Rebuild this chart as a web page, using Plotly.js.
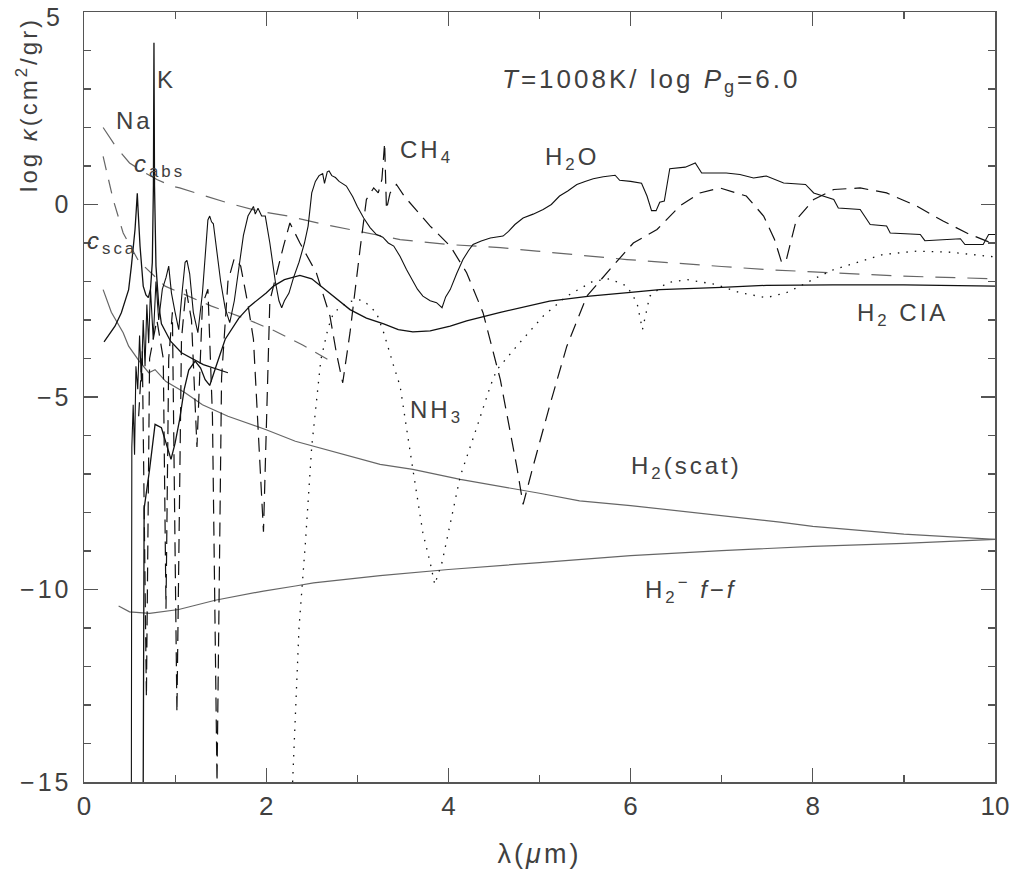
<!DOCTYPE html>
<html>
<head>
<meta charset="utf-8">
<script src="https://cdn.plot.ly/plotly-3.0.1.min.js"></script>
<style>
html,body{margin:0;padding:0;background:#fff;}
#chart{width:1010px;height:881px;}
svg text{letter-spacing:3px;}
svg .xtick text{letter-spacing:0px;}
</style>
</head>
<body>
<div id="chart"></div>
<script>
// ---- data (wavelength in micron, log opacity) ----
const h2o_x = [0.52,0.525,0.54,0.555,0.57,0.59,0.61,0.63,0.65,0.67,0.69,0.71,0.73,0.76,0.79,0.82,0.86,0.90,0.93,0.96,1.00,1.04,1.08,1.11,1.13,1.16,1.20,1.25,1.30,1.34,1.36,1.38,1.40,1.42,1.46,1.50,1.55,1.60,1.65,1.70,1.75,1.80,1.84,1.86,1.88,1.91,1.95,1.99,2.04,2.10,2.14,2.17,2.20,2.25,2.30,2.36,2.42,2.46,2.50,2.54,2.58,2.62,2.64,2.67,2.69,2.72,2.76,2.80,2.88,2.95,3.00,3.07,3.14,3.21,3.28,3.34,3.40,3.47,3.54,3.60,3.66,3.72,3.80,3.87,3.93,3.97,4.02,4.09,4.16,4.22,4.27,4.36,4.46,4.60,4.66,4.73,4.82,4.93,5.04,5.13,5.22,5.31,5.41,5.50,5.59,5.70,5.83,5.88,6.00,6.12,6.18,6.23,6.28,6.32,6.37,6.43,6.60,6.71,6.78,7.05,7.20,7.35,7.49,7.68,7.92,8.01,8.12,8.23,8.28,8.52,8.63,8.81,8.85,9.18,9.23,9.62,9.67,9.87,9.93,10.0];
const h2o_y = [-15,-6.3,-5.2,-6.5,-4.2,-4.8,-3.4,-4.6,-3.0,-4.2,-2.6,-3.6,-2.2,-3.5,-2.0,-3.0,-2.2,-1.9,-1.6,-2.3,-2.8,-3.25,-2.2,-1.5,-1.45,-1.8,-2.8,-3.33,-2.3,-1.0,-0.4,-0.3,-0.45,-0.5,-1.2,-2.0,-2.7,-3.07,-2.5,-1.6,-0.8,-0.3,-0.15,-0.05,-0.25,-0.1,-0.3,-0.3,-1.0,-2.0,-2.5,-2.68,-2.5,-2.3,-1.9,-1.5,-1.0,-0.56,0.3,0.6,0.75,0.8,0.55,0.85,0.87,0.75,0.7,0.6,0.48,0.2,-0.05,-0.35,-0.6,-0.78,-0.85,-1.0,-1.08,-1.35,-1.69,-1.95,-2.2,-2.38,-2.5,-2.55,-2.68,-2.4,-2.21,-1.8,-1.43,-1.2,-1.04,-0.95,-0.87,-0.82,-0.7,-0.52,-0.35,-0.25,-0.13,0.0,0.22,0.35,0.52,0.6,0.67,0.72,0.76,0.63,0.6,0.55,0.22,-0.16,-0.16,0.06,0.09,0.93,0.97,1.08,0.82,0.82,0.78,0.69,0.74,0.56,0.52,0.3,0.22,0.13,-0.09,-0.13,-0.52,-0.56,-0.74,-0.78,-0.94,-0.89,-1.04,-1.04,-0.78,-0.78];

const ch4_x = [0.60,0.64,0.685,0.72,0.80,0.87,0.90,0.93,0.97,1.02,1.07,1.12,1.18,1.24,1.30,1.36,1.41,1.46,1.51,1.58,1.65,1.72,1.80,1.86,1.97,2.04,2.19,2.26,2.37,2.55,2.70,2.77,2.84,2.92,3.03,3.10,3.18,3.23,3.27,3.30,3.32,3.36,3.43,3.52,3.65,3.80,4.02,4.20,4.38,4.57,4.75,4.82,4.93,5.11,5.30,5.52,5.77,6.03,6.29,6.54,6.76,6.98,7.27,7.46,7.58,7.66,7.71,7.82,8.01,8.23,8.52,8.81,9.14,9.43,9.69,9.91,10.0];
const ch4_y = [-5.5,-3.8,-12.8,-4.0,-3.0,-4.0,-10.5,-4.0,-2.8,-13.2,-3.5,-2.2,-3.0,-6.3,-2.6,-2.2,-5.5,-15,-4.5,-2.0,-1.4,-1.6,-2.6,-3.5,-8.5,-2.5,-1.08,-0.48,-1.0,-1.77,-2.9,-3.85,-4.63,-3.33,-1.17,0.13,0.43,0.3,0.65,1.6,-0.13,0.3,0.52,0.2,-0.15,-0.56,-1.08,-1.77,-2.81,-4.55,-6.8,-7.79,-6.8,-5.24,-3.68,-2.38,-1.69,-1.0,-0.65,-0.04,0.3,0.43,0.22,-0.3,-0.91,-1.52,-1.43,-0.39,0.13,0.39,0.43,0.3,-0.04,-0.43,-0.74,-0.95,-1.04];

const nh3_x = [2.29,2.36,2.43,2.50,2.60,2.68,2.74,2.88,3.00,3.07,3.21,3.29,3.40,3.47,3.61,3.72,3.80,3.85,3.93,4.13,4.31,4.46,4.53,4.75,5.04,5.30,5.59,5.77,5.96,6.07,6.13,6.21,6.40,6.62,6.94,7.20,7.49,7.71,7.86,8.04,8.23,8.52,8.77,9.14,9.51,9.91,10.0];
const nh3_y = [-15,-11,-8.8,-6.28,-4.03,-3.2,-2.81,-2.55,-2.47,-2.5,-2.81,-3.33,-4.2,-4.72,-6.88,-8.53,-9.3,-9.87,-9.3,-7.06,-5.8,-4.72,-4.3,-3.68,-2.9,-2.38,-1.99,-1.93,-2.12,-2.55,-3.25,-2.38,-2.03,-1.95,-2.08,-2.29,-2.42,-2.29,-2.12,-1.9,-1.69,-1.47,-1.3,-1.21,-1.24,-1.34,-1.36];

const cia_x = [0.65,0.655,0.66,0.72,0.78,0.85,0.90,0.955,1.00,1.05,1.10,1.15,1.22,1.28,1.33,1.38,1.45,1.55,1.70,1.82,2.00,2.08,2.20,2.37,2.50,2.70,2.92,3.10,3.29,3.45,3.61,3.80,4.02,4.20,4.57,5.11,5.55,6.00,6.32,7.00,7.49,8.22,9.00,10.0];
const cia_y = [-15,-9.0,-7.9,-6.88,-5.71,-5.8,-6.2,-6.62,-6.2,-5.58,-4.8,-4.3,-4.07,-4.25,-4.55,-4.7,-4.2,-3.5,-2.95,-2.64,-2.3,-2.12,-1.95,-1.84,-1.93,-2.3,-2.73,-2.95,-3.1,-3.25,-3.31,-3.28,-3.16,-3.02,-2.8,-2.51,-2.38,-2.28,-2.21,-2.15,-2.1,-2.09,-2.09,-2.12];

const nak_x = [0.22,0.28,0.34,0.41,0.46,0.49,0.52,0.56,0.575,0.585,0.595,0.615,0.65,0.68,0.706,0.73,0.75,0.762,0.768,0.774,0.79,0.82,0.85,0.95,1.07,1.31,1.58];
const nak_y = [-3.57,-3.35,-3.16,-2.81,-2.45,-2.21,-1.6,-0.65,-0.1,0.29,-0.2,-1.08,-2.12,-2.35,-2.42,-2.2,-1.5,0.5,4.2,0.5,-1.6,-2.6,-3.1,-3.55,-3.85,-4.16,-4.37];

const cabs_x = [0.21,0.35,0.50,0.65,0.80,0.96,1.05,1.30,1.58,1.91,2.24,2.60,3.00,3.47,4.00,4.57,4.97,5.96,7.00,7.49,8.00,8.96,10.0];
const cabs_y = [2.0,1.5,1.08,0.85,0.65,0.48,0.43,0.25,0.04,-0.17,-0.3,-0.5,-0.68,-0.91,-1.04,-1.12,-1.21,-1.43,-1.61,-1.69,-1.75,-1.86,-1.93];

const csca_x = [0.21,0.32,0.43,0.60,0.89,1.14,1.40,1.80,2.10,2.40,2.68];
const csca_y = [1.25,0.13,-0.74,-1.47,-2.12,-2.38,-2.64,-2.99,-3.29,-3.65,-4.03];

const h2scat_x = [0.21,0.30,0.43,0.49,0.60,0.71,0.78,0.90,1.11,1.30,1.58,2.00,2.32,2.52,3.00,3.25,3.61,4.13,5.00,5.44,6.00,7.00,7.64,8.00,9.00,10.0];
const h2scat_y = [-2.21,-2.8,-3.33,-3.68,-4.05,-4.37,-4.29,-4.6,-4.89,-5.2,-5.5,-5.85,-6.15,-6.28,-6.6,-6.75,-6.88,-7.14,-7.5,-7.7,-7.82,-8.08,-8.25,-8.36,-8.56,-8.7];

const ff_x = [0.38,0.50,0.72,1.04,1.44,1.97,2.32,2.52,3.25,4.00,5.00,5.44,6.00,7.00,7.64,8.00,9.00,10.0];
const ff_y = [-10.43,-10.58,-10.62,-10.52,-10.28,-10.04,-9.91,-9.83,-9.64,-9.48,-9.3,-9.22,-9.12,-8.99,-8.92,-8.88,-8.8,-8.7];

const xTicks = [0,2,4,6,8,10];
const yTicks = [-15,-10,-5,0,5];
const yTickText = ['\u221215','\u221210','\u22125','0',''];
const yTopLabel = '5';

// ---- styling ----
const BLACK = '#111111';
const GRAY = '#666666';
const FONT = 'Liberation Sans, Arial, sans-serif';
const TXT = '#404040';

function tr(x, y, color, width, dash) {
  return {x: x, y: y, type: 'scatter', mode: 'lines', hoverinfo: 'skip',
          line: {color: color, width: width, dash: dash || 'solid'}};
}

const data = [
  tr(ff_x, ff_y, GRAY, 1.2),
  tr(h2scat_x, h2scat_y, GRAY, 1.2),
  tr(cabs_x, cabs_y, GRAY, 1.2, '20px,12px'),
  tr(csca_x, csca_y, GRAY, 1.2, '14px,10px'),
  tr(nh3_x, nh3_y, BLACK, 1.3, '1.5px,7px'),
  tr(ch4_x, ch4_y, BLACK, 1.2, '14px,8px'),
  tr(cia_x, cia_y, BLACK, 1.3),
  tr(h2o_x, h2o_y, BLACK, 1.1),
  tr(nak_x, nak_y, BLACK, 1.3)
];

const ann = (x, y, text, size) => ({x: x, y: y, xref: 'x', yref: 'y', text: text,
  xanchor: 'center', yanchor: 'middle', showarrow: false,
  font: {family: FONT, size: size || 24, color: TXT}});

const layout = {
  width: 1010, height: 881,
  margin: {l: 84, r: 15, t: 12, b: 99},
  paper_bgcolor: '#fff', plot_bgcolor: '#fff',
  showlegend: false,
  font: {family: FONT, size: 24, color: TXT},
  xaxis: {
    range: [0, 10], tickvals: xTicks, ticktext: xTicks.map(String),
    ticks: 'inside', ticklen: 14, tickwidth: 1.2, tickcolor: '#555',
    minor: {dtick: 1, ticks: 'inside', ticklen: 7, tickwidth: 1.2, tickcolor: '#555'},
    showline: true, linecolor: '#555', linewidth: 1.5, mirror: 'ticks',
    showgrid: false, zeroline: false, ticklabelstandoff: 0, ticklabeloverflow: 'allow',
    tickfont: {family: FONT, size: 26, color: TXT},
    title: {text: '\u03bb(<i>\u03bc</i>m)', font: {family: FONT, size: 27, color: TXT}, standoff: 24}
  },
  yaxis: {
    range: [-15.0001, 5.0001], tickvals: yTicks, ticktext: yTickText,
    ticks: 'inside', ticklen: 14, tickwidth: 1.2, tickcolor: '#555',
    minor: {dtick: 1, ticks: 'inside', ticklen: 7, tickwidth: 1.2, tickcolor: '#555'},
    showline: true, linecolor: '#555', linewidth: 1.5, mirror: 'ticks',
    showgrid: false, zeroline: false, ticklabelstandoff: 6, ticklabeloverflow: 'allow',
    tickfont: {family: FONT, size: 25, color: TXT}
  },
  annotations: [
    {x: -0.021, y: 1.0149, xref: 'paper', yref: 'paper', xanchor: 'right', yanchor: 'top',
     text: yTopLabel, showarrow: false, font: {family: FONT, size: 25, color: TXT}},
    ann(0.911, 3.25, 'K'),
    ann(0.549, 2.18, 'Na'),
    ann(0.834, 1.02, '<i>c</i><sub>abs</sub>'),
    ann(0.307, -0.98, '<i>c</i><sub>sca</sub>'),
    ann(3.76, 1.38, 'CH<sub>4</sub>'),
    ann(5.357, 1.2, 'H<sub>2</sub>O'),
    ann(6.224, 3.22, '<i>T</i>=1008K/ log <i>P</i><sub>g</sub>=6.0', 26),
    ann(8.98, -2.85, 'H<sub>2</sub> CIA'),
    ann(3.864, -5.37, 'NH<sub>3</sub>'),
    ann(6.619, -6.83, 'H<sub>2</sub>(scat)'),
    ann(6.663, -10.0, 'H<sub>2</sub><sup>\u2212</sup> <i>f</i>\u2212<i>f</i>'),
    {x: -0.062, y: 0.88, xref: 'paper', yref: 'paper', xanchor: 'center', yanchor: 'middle',
     text: 'log <i>\u03ba</i>(cm<sup>2</sup>/gr)',
     textangle: -90, showarrow: false, font: {family: FONT, size: 24, color: TXT}}
  ]
};

Plotly.newPlot('chart', data, layout, {displayModeBar: false, staticPlot: true});
</script>
</body>
</html>
